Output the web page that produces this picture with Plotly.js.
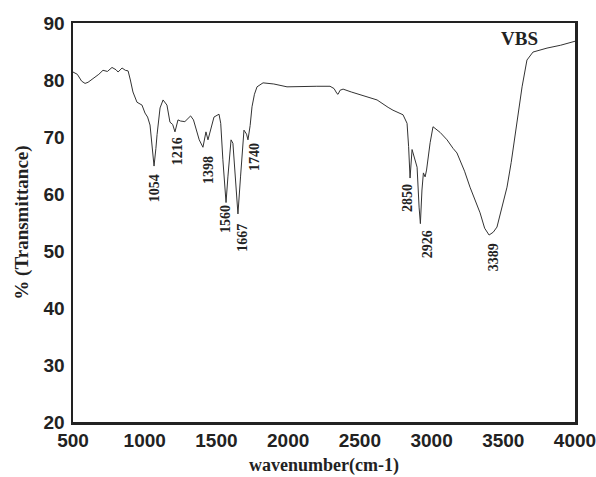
<!DOCTYPE html>
<html>
<head>
<meta charset="utf-8">
<script src="https://cdn.plot.ly/plotly-3.0.1.min.js"></script>
<style>html,body{margin:0;padding:0;background:#fff;}#chart{width:596px;height:477px;}</style>
</head>
<body>
<div id="chart"></div>
<script>
var wavenumber = [500,530,560,584,605,640,680,709,740,772,800,814,842,865,884,900,918,946,981,1002,1020,1037,1050,1065,1078,1086,1107,1128,1155,1176,1195,1211,1232,1250,1280,1320,1340,1360,1380,1406,1420,1427,1441,1460,1483,1518,1530,1545,1567,1580,1602,1615,1630,1650,1668,1692,1710,1720,1735,1748,1765,1783,1825,1900,1992,2100,2200,2292,2320,2341,2348,2362,2383,2440,2501,2560,2620,2697,2731,2801,2829,2840,2850,2864,2880,2899,2913,2922,2933,2943,2955,2965,2990,3010,3060,3108,3150,3177,3230,3268,3338,3370,3401,3430,3456,3490,3526,3555,3582,3631,3665,3707,3805,3900,3986,4000];
var transmittance = [81.4,81.0,79.8,79.4,79.6,80.2,81.0,81.7,81.5,82.2,81.8,81.4,82.1,81.7,81.6,80.0,77.9,76.1,75.6,74.2,73.5,72.1,68,64.9,68,70.4,75.1,76.5,75.6,72.6,72.2,70.9,73.0,72.8,72.7,73.7,73.0,71.2,69.5,68.2,69.8,70.9,69.5,71.5,73.5,74.0,72.4,66,58.5,63,69.5,68.9,64,56.5,63,71.2,70.5,69.5,72,75.3,77.5,78.8,79.5,79.3,78.8,78.9,78.9,78.9,78.5,77.6,77.5,78.2,78.4,77.9,77.4,77.0,76.5,75.2,74.7,73.9,72.4,68.3,62.8,67.8,66.5,64.7,57.7,54.8,60.7,63.7,63,64.2,69,71.8,70.8,69.5,68.0,67.2,64,61.2,56.7,54,52.8,53.3,54.2,57.5,61.2,65.5,70.0,78.8,83.5,84.9,85.6,86.1,86.7,86.8];
var peakLabels = ["1054","1216","1398","1560","1667","1740","2850","2926","3389"];
var xTicks = [500,1000,1500,2000,2500,3000,3500,4000];
var yTicks = [20,30,40,50,60,70,80,90];
var seriesName = "VBS";

// label placement (layout only)
var labelX = [1065,1225,1441,1560,1685,1769,2836,2968,3428];
var labelY = [61.0,67.5,64.2,55.6,52.3,66.5,59.3,51.2,48.9];

var annotations = peakLabels.map(function(t,i){
  return {x: labelX[i], y: labelY[i], xref:'x', yref:'y', text: t, showarrow:false, textangle:-90,
          font:{family:'Liberation Serif, Times New Roman, serif', size:14, color:'#222', weight:'bold'},
          xanchor:'center', yanchor:'middle'};
});
annotations.push({x: 0.89, y: 0.962, xref:'paper', yref:'paper', text: seriesName, showarrow:false,
  font:{family:'Liberation Serif, Times New Roman, serif', size:19, color:'#222', weight:'bold'}, xanchor:'center', yanchor:'middle'});

var trace = {x: wavenumber, y: transmittance, mode:'lines', type:'scatter', name: seriesName,
  line:{color:'#333', width:1}};

var tickFont = {family:'Liberation Sans, Arial, sans-serif', size:19, color:'#222', weight:'bold'};
var layout = {
  width:596, height:477,
  margin:{l:73, r:21, t:23, b:55},
  paper_bgcolor:'#fff', plot_bgcolor:'#fff',
  showlegend:false,
  xaxis:{range:[500,4000], tickvals:xTicks, ticktext:xTicks.map(String), showgrid:false, zeroline:false,
    showline:true, mirror:true, linecolor:'#222', linewidth:2.5, ticks:'', tickfont:tickFont, ticklabelstandoff:0,
    ticklabeloverflow:'allow',
    title:{text:'wavenumber(cm-1)', font:{family:'Liberation Serif, Times New Roman, serif', size:18, color:'#222', weight:'bold'}, standoff:8}},
  yaxis:{range:[20,90], tickvals:yTicks, ticktext:yTicks.map(String), showgrid:false, zeroline:false,
    showline:true, mirror:true, linecolor:'#222', linewidth:2.5, ticks:'', tickfont:tickFont, ticklabelstandoff:2,
    ticklabeloverflow:'allow',
    title:{text:'% (Transmittance)', font:{family:'Liberation Serif, Times New Roman, serif', size:19, color:'#222', weight:'bold'}, standoff:10}},
  annotations: annotations
};
Plotly.newPlot('chart', [trace], layout, {displayModeBar:false, staticPlot:true});
</script>
</body>
</html>
